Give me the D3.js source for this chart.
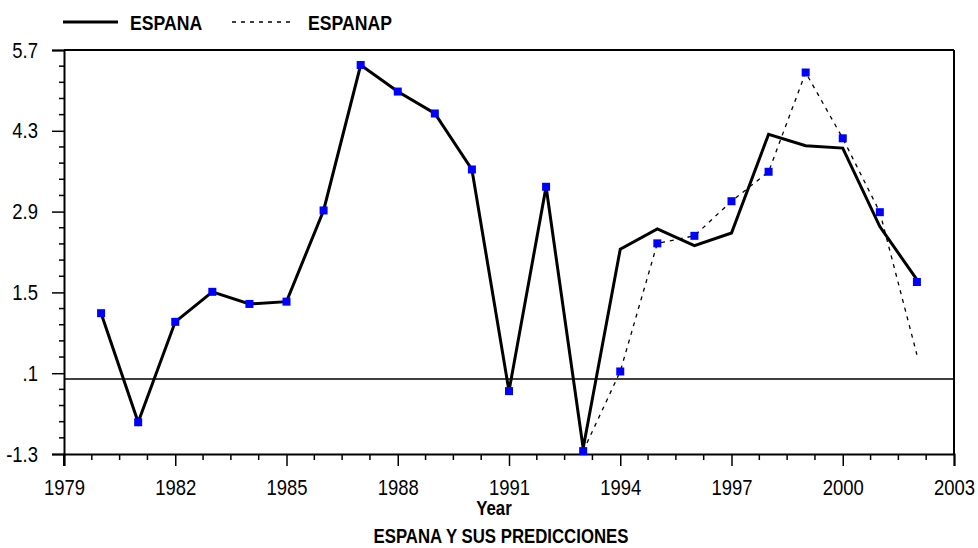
<!DOCTYPE html>
<html>
<head>
<meta charset="utf-8">
<script src="https://cdn.jsdelivr.net/npm/d3@7/dist/d3.min.js"></script>
<style>
  html, body { margin: 0; padding: 0; background: #fff; }
  svg { display: block; }
  text { font-family: "Liberation Sans", Arial, sans-serif; fill: #000; }
</style>
</head>
<body>
<svg id="chart" width="978" height="548"></svg>
<script>
// Annual series, 1980-2002
const years = d3.range(1980, 2003);
const espana = [1.14, -0.75, 0.99, 1.51, 1.30, 1.34, 2.92, 5.44, 4.98, 4.60, 3.63, -0.21, 3.33,
                -1.2, 2.25, 2.60, 2.31, 2.53, 4.24, 4.04, 4.00, 2.64, 1.72];
// Predicted series (from 1993 onward; coincides with ESPANA before)
const espanap = [null, null, null, null, null, null, null, null, null, null, null, null, null,
                 -1.25, 0.13, 2.35, 2.48, 3.08, 3.59, 5.31, 4.17, 2.89, 0.42];
// Observation markers
const puntos = [1.14, -0.75, 0.99, 1.51, 1.30, 1.34, 2.92, 5.44, 4.98, 4.60, 3.63, -0.21, 3.33,
                -1.25, 0.13, 2.35, 2.48, 3.08, 3.59, 5.31, 4.17, 2.89, 1.68];

const yTicks = [-1.3, 0.1, 1.5, 2.9, 4.3, 5.7];
const yTickLabels = ["-1.3", ".1", "1.5", "2.9", "4.3", "5.7"];
const xTicks = [1979, 1982, 1985, 1988, 1991, 1994, 1997, 2000, 2003];
const seriesNames = ["ESPANA", "ESPANAP"];

const svg = d3.select("#chart");
const plotL = 64, plotR = 954, plotT = 50, plotB = 454;
const squeeze = 0.84; // narrow, tall lettering

const x = d3.scaleLinear().domain([1979, 2003]).range([plotL, plotR]);
const y = d3.scaleLinear().domain([-1.3, 5.7]).range([plotB, plotT]);

// Minor tick positions
const xMinor = d3.range(1979, 2003.01, 0.75).filter(v => !xTicks.some(t => Math.abs(t - v) < 1e-6));
const yMinor = d3.range(-1.3, 5.71, 0.28).filter(v => !yTicks.some(t => Math.abs(t - v) < 1e-6));

// Frame: top and right edges
svg.append("line").attr("x1", plotL).attr("x2", plotR).attr("y1", plotT).attr("y2", plotT)
  .attr("stroke", "#000").attr("stroke-width", 2);
svg.append("line").attr("x1", plotR).attr("x2", plotR).attr("y1", plotT).attr("y2", plotB)
  .attr("stroke", "#000").attr("stroke-width", 2);

// Zero reference line
svg.append("line").attr("x1", plotL).attr("x2", plotR).attr("y1", y(0)).attr("y2", y(0))
  .attr("stroke", "#000").attr("stroke-width", 1.5);

// Bottom axis
const gx = svg.append("g").attr("transform", `translate(0,${plotB})`);
gx.call(d3.axisBottom(x).tickValues(xTicks).tickFormat(d3.format("d")).tickSize(12).tickPadding(13))
  .call(g => g.select(".domain").attr("stroke-width", 2))
  .call(g => g.selectAll(".tick line").attr("stroke-width", 1.5))
  .call(g => g.selectAll(".tick text").attr("font-size", 22)
    .attr("font-family", "Liberation Sans, Arial, sans-serif")
    .attr("transform", `scale(${squeeze},1)`));
gx.selectAll(".minor").data(xMinor).join("line")
  .attr("x1", d => x(d)).attr("x2", d => x(d)).attr("y1", 0).attr("y2", 6)
  .attr("stroke", "#000").attr("stroke-width", 1.5);

// Left axis
const gy = svg.append("g").attr("transform", `translate(${plotL},0)`);
gy.call(d3.axisLeft(y).tickValues(yTicks).tickFormat((d, i) => yTickLabels[i]).tickSize(12).tickPadding(3))
  .call(g => g.select(".domain").attr("stroke-width", 2))
  .call(g => g.selectAll(".tick line").attr("stroke-width", 1.5))
  .call(g => g.selectAll(".tick text").attr("font-size", 22)
    .attr("font-family", "Liberation Sans, Arial, sans-serif")
    .attr("x", -26 / squeeze)
    .attr("transform", `scale(${squeeze},1)`));
gy.selectAll(".minor").data(yMinor).join("line")
  .attr("x1", -5).attr("x2", 0).attr("y1", d => y(d)).attr("y2", d => y(d))
  .attr("stroke", "#000").attr("stroke-width", 1.5);

// Left axis runs a little below the bottom axis
svg.append("line").attr("x1", plotL).attr("x2", plotL).attr("y1", plotB).attr("y2", plotB + 12)
  .attr("stroke", "#000").attr("stroke-width", 2);

// Series lines
const line = d3.line()
  .defined(d => d[1] !== null)
  .x(d => x(d[0])).y(d => y(d[1]));

svg.append("path")
  .datum(years.map((yr, i) => [yr, espanap[i]]))
  .attr("d", line).attr("fill", "none")
  .attr("stroke", "#000").attr("stroke-width", 1.3).attr("stroke-dasharray", "4,5");

svg.append("path")
  .datum(years.map((yr, i) => [yr, espana[i]]))
  .attr("d", line).attr("fill", "none")
  .attr("stroke", "#000").attr("stroke-width", 3).attr("stroke-linejoin", "miter");

// Markers
const ms = 8;
svg.selectAll(".pt").data(years.map((yr, i) => [yr, puntos[i]])).join("rect")
  .attr("class", "pt")
  .attr("x", d => x(d[0]) - ms / 2).attr("y", d => y(d[1]) - ms / 2)
  .attr("width", ms).attr("height", ms).attr("fill", "#0000ff");

// Text helper: condensed lettering placed at (px, py)
function label(px, py, str, size, anchor) {
  return svg.append("text")
    .attr("transform", `translate(${px},${py}) scale(${squeeze},1)`)
    .attr("text-anchor", anchor || "start")
    .attr("font-size", size).attr("font-weight", "bold")
    .text(str);
}

// Legend
svg.append("line").attr("x1", 63).attr("x2", 118).attr("y1", 22).attr("y2", 22)
  .attr("stroke", "#000").attr("stroke-width", 3);
label(130, 30, seriesNames[0], 21);
svg.append("line").attr("x1", 232).attr("x2", 290).attr("y1", 22).attr("y2", 22)
  .attr("stroke", "#000").attr("stroke-width", 1.3).attr("stroke-dasharray", "4,5");
label(308, 30, seriesNames[1], 21);

// Axis title and caption
label(494, 515, "Year", 20, "middle");
label(501, 543, "ESPANA Y SUS PREDICCIONES", 20, "middle");
</script>
</body>
</html>
